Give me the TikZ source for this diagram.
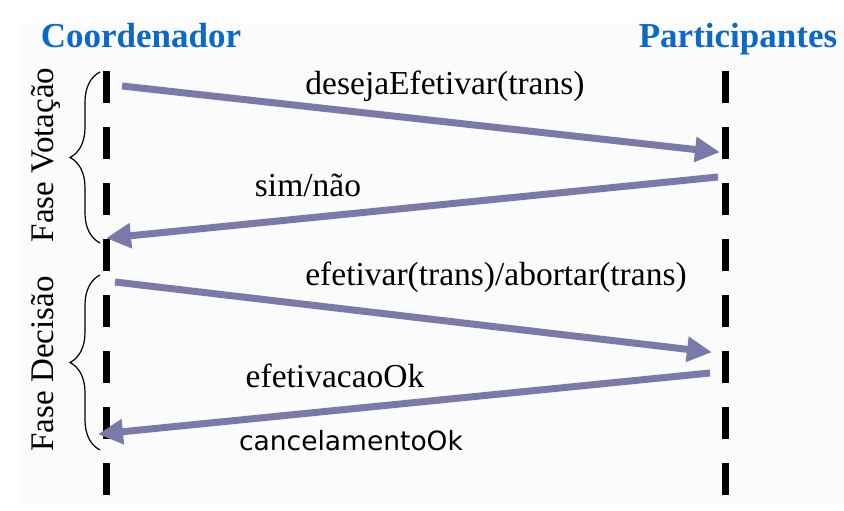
\documentclass[tikz,border=0pt]{standalone}
\usepackage{fontspec}
\setmainfont{Liberation Serif}
\newfontfamily\labelsans{DejaVu Sans}
\usetikzlibrary{arrows.meta,decorations.pathreplacing}

\definecolor{titleblue}{RGB}{12,104,204}
\definecolor{msgcol}{RGB}{122,122,170}
\definecolor{paper}{RGB}{251,251,251}

\tikzset{
  title/.style={font=\fontsize{35}{40}\selectfont\bfseries, text=titleblue, anchor=base, inner sep=0pt},
  lifeline/.style={line width=7pt, dash pattern=on 32pt off 24pt},
  msg/.style={line width=7pt, msgcol, -{Triangle[length=25pt,width=24pt]}, shorten >=-2pt},
  msglabel/.style={font=\fontsize{33.5}{38}\selectfont, anchor=base, inner sep=0pt},
  phase/.style={font=\fontsize{33}{38}\selectfont, rotate=90, anchor=base, inner sep=0pt},
  phasebrace/.style={decorate, decoration={brace, amplitude=30pt, aspect=0.5}, line width=1.2pt}
}

\begin{document}
\begin{tikzpicture}[x=1pt, y=-1pt]

\useasboundingbox (0,0) rectangle (844,511);
\fill[paper] (20,23) rectangle (844,503);

% Titles
\node[title] (coord) at (141,48) {Coordenador};
\node[title] (part) at (738,48) {Participantes};

% Lifelines
\coordinate (ctop) at (106,71);
\coordinate (cbot) at (106,497);
\coordinate (ptop) at (725,71);
\coordinate (pbot) at (725,497);
\draw[lifeline] (ctop) -- (cbot);
\draw[lifeline] (ptop) -- (pbot);

% Message end points
\coordinate (c1) at (122,86);
\coordinate (p1) at (718,152);
\coordinate (p2) at (718,177);
\coordinate (c2) at (108,238);
\coordinate (c3) at (115,282);
\coordinate (p3) at (710,352);
\coordinate (p4) at (710,373);
\coordinate (c4) at (100,434);

% Messages
\draw[msg] (c1) -- (p1);
\draw[msg] (p2) -- (c2);
\draw[msg] (c3) -- (p3);
\draw[msg] (p4) -- (c4);

% Labels
\node[msglabel] (l1) at (445,95) {desejaEfetivar(trans)};
\node[msglabel] (l2) at (308,196) {sim/não};
\node[msglabel] (l3) at (496,285) {efetivar(trans)/abortar(trans)};
\node[msglabel] (l4) at (335,387) {efetivacaoOk};
\node[msglabel, font=\labelsans\fontsize{26.5}{30}\selectfont] (l5) at (351,450) {cancelamentoOk};

% Phases
\coordinate (v1) at (100,243);
\coordinate (v2) at (100,72);
\coordinate (d1) at (100,450);
\coordinate (d2) at (100,275);
\draw[phasebrace] (v1) -- (v2);
\draw[phasebrace] (d1) -- (d2);
\node[phase] (votacao) at (53,155) {Fase Votação};
\node[phase] (decisao) at (53,364) {Fase Decisão};

\end{tikzpicture}
\end{document}
